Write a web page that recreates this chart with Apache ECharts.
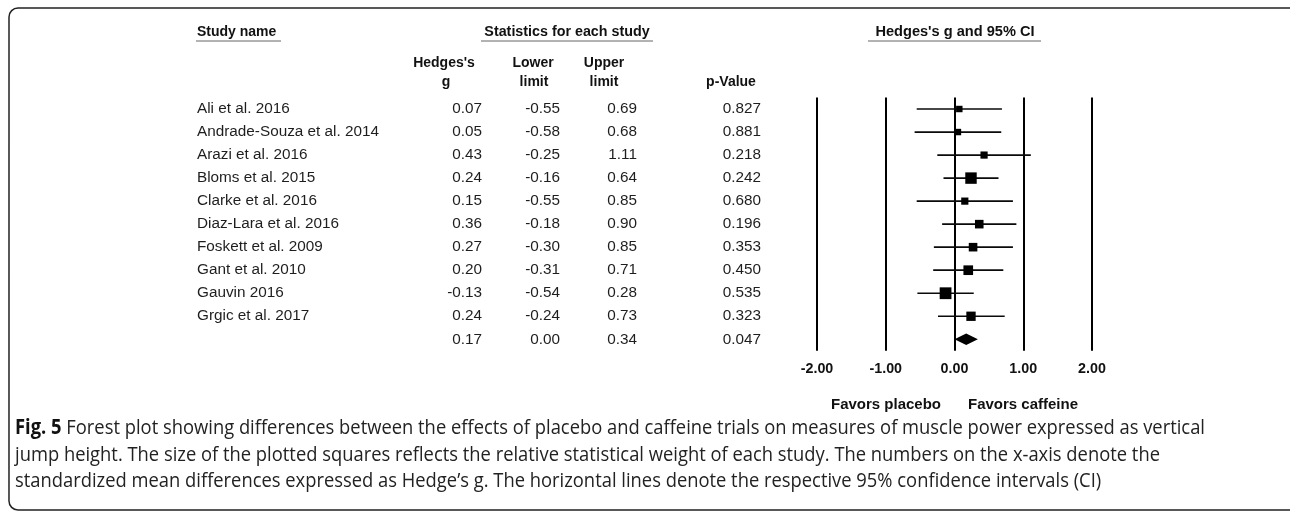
<!DOCTYPE html>
<html>
<head>
<meta charset="utf-8">
<style>
html,body{margin:0;padding:0;background:#fff;}
#chart{width:1290px;height:511px;}
</style>
<script src="https://cdn.jsdelivr.net/npm/echarts@6/dist/echarts.min.js"></script>
</head>
<body>
<div id="chart"></div>
<script>
// ---- data ----
const studies = ['Ali et al. 2016', 'Andrade-Souza et al. 2014', 'Arazi et al. 2016', 'Bloms et al. 2015',
  'Clarke et al. 2016', 'Diaz-Lara et al. 2016', 'Foskett et al. 2009', 'Gant et al. 2010',
  'Gauvin 2016', 'Grgic et al. 2017', ''];
const hedgesG = [0.07, 0.05, 0.43, 0.24, 0.15, 0.36, 0.27, 0.20, -0.13, 0.24, 0.17];
const lowerLimit = [-0.55, -0.58, -0.25, -0.16, -0.55, -0.18, -0.30, -0.31, -0.54, -0.24, 0.00];
const upperLimit = [0.69, 0.68, 1.11, 0.64, 0.85, 0.90, 0.85, 0.71, 0.28, 0.73, 0.34];
const pValues = ['0.827', '0.881', '0.218', '0.242', '0.680', '0.196', '0.353', '0.450', '0.535', '0.323', '0.047'];
// relative weights (%) estimated from the square areas
const relWeight = [5.3, 5.3, 6.6, 16.7, 6.6, 9.4, 9.4, 11.9, 17.7, 11.1];
const xTickValues = [-2, -1, 0, 1, 2];
const xTickLabels = ['-2.00', '-1.00', '0.00', '1.00', '2.00'];
const favorLabels = ['Favors placebo', 'Favors caffeine'];
const captionBold = 'Fig. 5';
const captionLines = [
  ' Forest plot showing differences between the effects of placebo and caffeine trials on measures of muscle power expressed as vertical',
  'jump height. The size of the plotted squares reflects the relative statistical weight of each study. The numbers on the x-axis denote the',
  'standardized mean differences expressed as Hedge\u2019s g. The horizontal lines denote the respective 95% confidence intervals (CI)'
];

// ---- layout ----
const FONT = '"Liberation Sans", Arial, sans-serif';
const CAP_FONT_FAMILY = '"Open Sans", "Noto Sans", sans-serif';
const gridLeft = 817, gridRight = 1092, gridTop = 97.5, gridBottom = 350.8;
const nRows = studies.length;
const rowIdx = studies.map((_, i) => String(i));

const chart = echarts.init(document.getElementById('chart'), null, {renderer: 'canvas'});

function measure(text, font) {
  const c = document.createElement('canvas').getContext('2d');
  c.font = font;
  return c.measureText(text).width;
}

function fmt2(v) { return v.toFixed(2); }

const studyData = [];
for (let i = 0; i < relWeight.length; i++) {
  studyData.push([hedgesG[i], lowerLimit[i], upperLimit[i], relWeight[i], i]);
}
const si = nRows - 1;
const summaryData = [[hedgesG[si], lowerLimit[si], upperLimit[si], 0, si]];

function colAxis(values, rightEdge, align) {
  return {
    type: 'category', gridIndex: 0, inverse: true, data: rowIdx, position: 'left',
    offset: gridLeft - rightEdge,
    axisLine: {show: false}, axisTick: {show: false}, splitLine: {show: false},
    axisLabel: {
      show: true, margin: 0, align: align || 'right', fontSize: 15.3, fontFamily: FONT, color: '#1e1e1e',
      formatter: (v, i) => values[i]
    }
  };
}

// caption graphics
const capSize = 20.5;
const capFontR = capSize + 'px ' + CAP_FONT_FAMILY;
const capFontB = 'bold ' + capSize + 'px ' + CAP_FONT_FAMILY;
const wBold = measure(captionBold, capFontB);
const wLine1 = wBold + measure(captionLines[0], capFontR);
const capScale = (1205 - 15) / wLine1;
const capYs = [428, 455, 481];

const headerStyle = {fontSize: 14, fontWeight: 'bold', fontFamily: FONT, fill: '#111'};
function htext(txt, x, y, align, size) {
  return {type: 'text', x: x, y: y,
    style: Object.assign({}, headerStyle, {text: txt, textAlign: align || 'center', textVerticalAlign: 'middle', fontSize: size || 14})};
}
function uline(x1, x2, y) {
  return {type: 'line', shape: {x1: x1, y1: y, x2: x2, y2: y}, style: {stroke: '#666', lineWidth: 1}};
}

const graphics = [
  {type: 'rect', shape: {x: 9, y: 8, width: 1290, height: 502, r: 9}, style: {fill: 'none', stroke: '#222', lineWidth: 1.5}},
  htext('Study name', 197, 32, 'left'), uline(196, 281, 41),
  htext('Statistics for each study', 567, 32, 'center', 14.3), uline(481, 653, 41),
  htext("Hedges's g and 95% CI", 955, 32, 'center', 14.6), uline(868, 1041, 41),
  htext("Hedges's", 444, 63), htext('g', 446, 82),
  htext('Lower', 533, 63), htext('limit', 534, 82),
  htext('Upper', 604, 63), htext('limit', 604, 82),
  htext('p-Value', 731, 82),
  htext(favorLabels[0], 886, 405, 'center', 15),
  htext(favorLabels[1], 1023, 405, 'center', 15),
  {type: 'text', x: 15, y: capYs[0], scaleX: capScale, style: {text: captionBold, font: capFontB, fill: '#111', textAlign: 'left', textVerticalAlign: 'middle'}},
  {type: 'text', x: 15 + wBold * capScale, y: capYs[0], scaleX: capScale, style: {text: captionLines[0], font: capFontR, fill: '#222', textAlign: 'left', textVerticalAlign: 'middle'}},
  {type: 'text', x: 15, y: capYs[1], scaleX: capScale, style: {text: captionLines[1], font: capFontR, fill: '#222', textAlign: 'left', textVerticalAlign: 'middle'}},
  {type: 'text', x: 15, y: capYs[2], scaleX: capScale, style: {text: captionLines[2], font: capFontR, fill: '#222', textAlign: 'left', textVerticalAlign: 'middle'}}
];

const option = {
  animation: false,
  backgroundColor: '#fff',
  grid: {left: gridLeft, top: gridTop, width: gridRight - gridLeft, height: gridBottom - gridTop, containLabel: false},
  xAxis: {
    type: 'value', min: -2, max: 2, interval: 1,
    axisLine: {show: false}, axisTick: {show: false},
    splitLine: {show: true, showMinLine: true, showMaxLine: true, lineStyle: {color: '#000', width: 2, type: 'solid'}},
    axisLabel: {
      show: true, margin: 11, fontSize: 14.3, fontWeight: 'bold', fontFamily: FONT, color: '#111',
      formatter: v => { const k = xTickValues.indexOf(Math.round(v)); return k >= 0 ? xTickLabels[k] : fmt2(v); }
    }
  },
  yAxis: [
    {type: 'category', gridIndex: 0, inverse: true, data: rowIdx, axisLine: {show: false}, axisTick: {show: false},
      axisLabel: {show: false}, splitLine: {show: false}},
    colAxis(studies, 197, 'left'),
    colAxis(hedgesG.map(fmt2), 482),
    colAxis(lowerLimit.map(fmt2), 560),
    colAxis(upperLimit.map(fmt2), 637),
    colAxis(pValues, 761)
  ],
  series: [
    {
      type: 'custom', xAxisIndex: 0, yAxisIndex: 0, data: studyData,
      encode: {x: [0, 1, 2], y: 4},
      renderItem: function (params, api) {
        const y = api.value(4);
        const p0 = api.coord([api.value(1), y]);
        const p1 = api.coord([api.value(2), y]);
        const pc = api.coord([api.value(0), y]);
        const s = Math.sqrt(api.value(3)) * 2.8;
        return {
          type: 'group', children: [
            {type: 'line', shape: {x1: p0[0], y1: p0[1], x2: p1[0], y2: p1[1]}, style: {stroke: '#0a0a0a', lineWidth: 1.7}},
            {type: 'rect', shape: {x: pc[0] - s / 2, y: pc[1] - s / 2, width: s, height: s}, style: {fill: '#000'}}
          ]
        };
      }
    },
    {
      type: 'custom', xAxisIndex: 0, yAxisIndex: 0, data: summaryData,
      encode: {x: [0, 1, 2], y: 4},
      renderItem: function (params, api) {
        const y = api.value(4);
        const pl = api.coord([api.value(1), y]);
        const pr = api.coord([api.value(2), y]);
        const pc = api.coord([api.value(0), y]);
        const h = 5.8;
        return {
          type: 'polygon',
          shape: {points: [[pl[0], pl[1]], [pc[0], pc[1] - h], [pr[0], pr[1]], [pc[0], pc[1] + h]]},
          style: {fill: '#000'}
        };
      }
    }
  ],
  graphic: graphics
};
chart.setOption(option);
</script>
</body>
</html>
